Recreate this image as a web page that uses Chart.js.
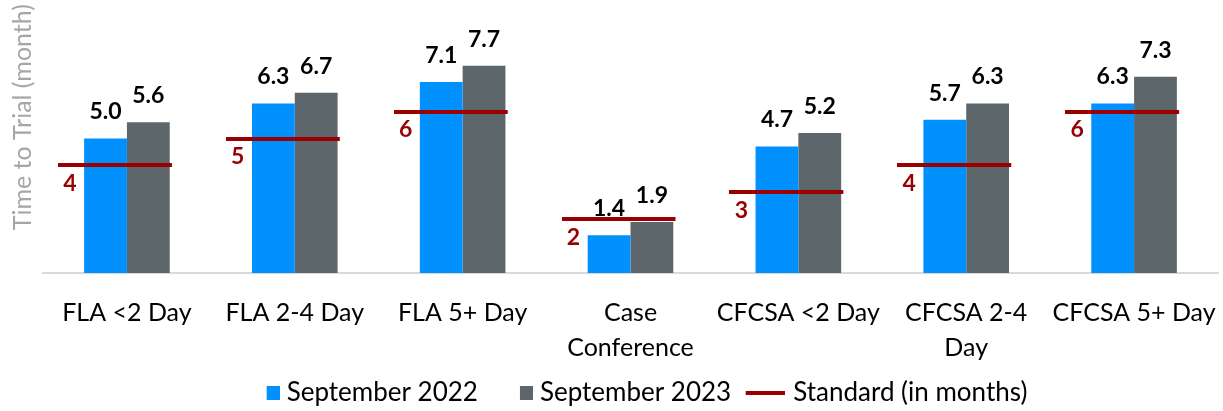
<!DOCTYPE html>
<html>
<head>
<meta charset="utf-8">
<script src="https://cdn.jsdelivr.net/npm/chart.js@4"></script>
<style>
  html, body { margin: 0; padding: 0; background: #fff; }
  #wrap { width: 1223px; height: 411px; position: relative; }
</style>
</head>
<body>
<div id="wrap"><canvas id="trialchart"></canvas></div>
<script>
const categories = ['FLA <2 Day', 'FLA 2-4 Day', 'FLA 5+ Day', ['Case', 'Conference'], 'CFCSA <2 Day', ['CFCSA 2-4', 'Day'], 'CFCSA 5+ Day'];
const sep2022 = [5.0, 6.3, 7.1, 1.4, 4.7, 5.7, 6.3];
const sep2023 = [5.6, 6.7, 7.7, 1.9, 5.2, 6.3, 7.3];
const standard = [4, 5, 6, 2, 3, 4, 6];

const blue = '#0091ff';
const grey = '#5d676b';
const red = '#990000';

// little canvases used as point styles
function makeCanvas(w, h, draw) {
  const c = document.createElement('canvas');
  c.width = w; c.height = h;
  draw(c.getContext('2d'));
  return c;
}
// standard marker: line sits a bit left of the category centre
const stdMark = makeCanvas(138, 4, ctx => { ctx.fillStyle = red; ctx.fillRect(0, 0, 114, 4); });
// legend markers, drawn centred in a 40px box
const legBlue = makeCanvas(52, 14, ctx => { ctx.fillStyle = blue; ctx.fillRect(39, 0, 13, 14); });
const legGrey = makeCanvas(52, 14, ctx => { ctx.fillStyle = grey; ctx.fillRect(39, 0, 13, 14); });
const legLine = makeCanvas(49, 4, ctx => { ctx.fillStyle = red; ctx.fillRect(10, 0, 39, 4); });

const valueLabels = {
  id: 'valueLabels',
  afterDatasetsDraw(chart) {
    const ctx = chart.ctx;
    ctx.save();
    ctx.textAlign = 'center';
    chart.data.datasets.forEach((ds, i) => {
      const meta = chart.getDatasetMeta(i);
      meta.data.forEach((el, j) => {
        ctx.font = 'bold 23px Lato';
        if (ds.type === 'line') {
          ctx.fillStyle = red;
          ctx.textBaseline = 'middle';
          ctx.fillText(ds.data[j], el.x - 57, el.y + 18);
        } else {
          ctx.fillStyle = '#000';
          ctx.textBaseline = 'bottom';
          ctx.fillText(ds.data[j].toFixed(1), el.x, el.y - 15);
        }
      });
    });
    ctx.restore();
  }
};

const config = {
  type: 'bar',
  data: {
    labels: categories,
    datasets: [
      {
        type: 'line',
        label: 'Standard (in months)',
        data: standard,
        showLine: false,
        pointStyle: stdMark,
        pointRadius: 3,
        pointHoverRadius: 3,
        order: 0
      },
      {
        label: 'September 2022',
        data: sep2022,
        backgroundColor: blue,
        borderWidth: 0,
        categoryPercentage: 0.51,
        barPercentage: 1,
        order: 1
      },
      {
        label: 'September 2023',
        data: sep2023,
        backgroundColor: grey,
        borderWidth: 0,
        categoryPercentage: 0.51,
        barPercentage: 1,
        order: 1
      }
    ]
  },
  options: {
    responsive: true,
    maintainAspectRatio: false,
    animation: false,
    events: [],
    layout: { padding: { left: 8, right: 5, top: 4, bottom: -5 } },
    scales: {
      x: {
        grid: { display: false, drawTicks: false },
        border: { display: true, color: '#d9d9d9', width: 2 },
        ticks: {
          color: '#000',
          font: { family: 'Lato', size: 25, lineHeight: 1.4 },
          padding: 22,
          maxRotation: 0,
          autoSkip: false
        },
        afterFit(scale) {
          scale.height = 98;
          // labels fit inside the category slots, no extra side room needed
          scale.paddingLeft = 0;
          scale.paddingRight = 0;
        }
      },
      y: {
        min: 0,
        max: 10,
        grid: { display: false, drawTicks: false },
        border: { display: false },
        ticks: { display: false },
        title: {
          display: true,
          text: 'Time to Trial (month)',
          align: 'end',
          color: '#a6a6a6',
          font: { family: 'Lato', size: 25 },
          padding: { top: 0, bottom: 5 }
        }
      }
    },
    plugins: {
      tooltip: { enabled: false },
      legend: {
        position: 'bottom',
        fullSize: false,
        labels: {
          usePointStyle: true,
          pointStyleWidth: 40,
          color: '#595959',
          font: { family: 'Lato', size: 26, lineHeight: 1 },
          padding: 9,
          generateLabels() {
            return [
              { text: 'September 2022', pointStyle: legBlue, fillStyle: blue, lineWidth: 0, hidden: false, datasetIndex: 1 },
              { text: 'September 2023', pointStyle: legGrey, fillStyle: grey, lineWidth: 0, hidden: false, datasetIndex: 2 },
              { text: 'Standard (in months)', pointStyle: legLine, fillStyle: red, lineWidth: 0, hidden: false, datasetIndex: 0 }
            ];
          }
        }
      }
    }
  },
  plugins: [valueLabels]
};

const trialchart = new Chart(document.getElementById('trialchart'), config);
</script>
</body>
</html>
